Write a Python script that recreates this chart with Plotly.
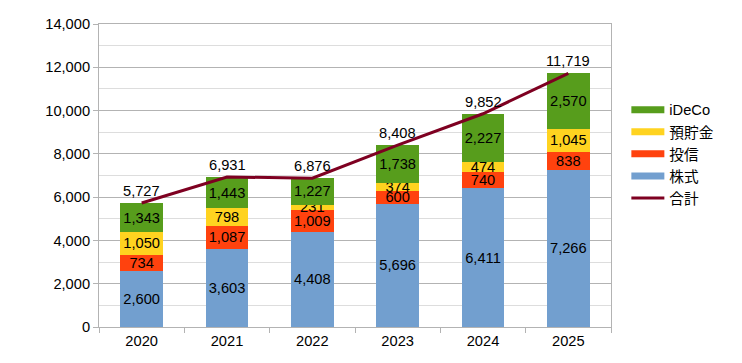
import plotly.graph_objects as go

years = ["2020", "2021", "2022", "2023", "2024", "2025"]
kabushiki = [2600, 3603, 4408, 5696, 6411, 7266]   # 株式
toshin = [734, 1087, 1009, 600, 740, 838]           # 投信
yochokin = [1050, 798, 231, 374, 474, 1045]         # 預貯金
ideco = [1343, 1443, 1227, 1738, 2227, 2570]        # iDeCo
total = [5727, 6931, 6876, 8408, 9852, 11719]       # 合計

y_ticks = [0, 2000, 4000, 6000, 8000, 10000, 12000, 14000]

FONT = "Liberation Sans, Arial, Noto Sans CJK JP, sans-serif"
FS = 14.67

series = [
    ("株式", kabushiki, "#729FCF"),
    ("投信", toshin, "#FF420E"),
    ("預貯金", yochokin, "#FFD320"),
    ("iDeCo", ideco, "#579D1C"),
]

fig = go.Figure()
for name, vals, col in series:
    fig.add_trace(go.Bar(
        x=years, y=vals, name=name, marker=dict(color=col, line=dict(width=0)),
        text=[f"{v:,}" for v in vals], textposition="inside", textangle=0,
        insidetextanchor="middle", constraintext="none",
        textfont=dict(color="black", size=FS, family=FONT),
        showlegend=False,
    ))

# legend entries (wide rectangles like the original)
for name, vals, col in reversed(series):
    fig.add_trace(go.Scatter(
        x=[None], y=[None], mode="lines", name=name,
        line=dict(color=col, width=7), showlegend=True, hoverinfo="skip",
    ))

fig.add_trace(go.Scatter(
    x=years, y=total, name="合計", mode="lines",
    line=dict(color="#7E0021", width=3),
))

# total labels above the line points (category index positions)
for i, v in enumerate(total):
    fig.add_annotation(
        x=i, y=v, xref="x", yref="y", text=f"{v:,}", showarrow=False, yshift=12,
        font=dict(color="black", size=FS, family=FONT),
    )

fig.update_layout(
    barmode="stack", bargap=0.5,
    width=726, height=347,
    margin=dict(l=91, r=123, t=16, b=28, autoexpand=False),
    paper_bgcolor="white", plot_bgcolor="white",
    font=dict(family=FONT, size=FS, color="black"),
    uniformtext=dict(minsize=FS, mode="show"),
    legend=dict(x=1.03, y=0.77, xanchor="left", yanchor="top",
                itemwidth=33, traceorder="normal",
                font=dict(size=FS, family=FONT, color="black"),
                bgcolor="rgba(0,0,0,0)"),
)
fig.update_xaxes(
    type="category", categoryorder="array", categoryarray=years,
    range=[-0.5, len(years) - 0.5],
    tickson="boundaries", ticks="outside", ticklen=5,
    tickcolor="#b3b3b3", showline=True, linecolor="#b3b3b3", linewidth=1,
    mirror=True, showgrid=False, automargin=False,
    tickfont=dict(size=FS, family=FONT, color="black"),
)
fig.update_yaxes(
    range=[0, 14000], tickvals=y_ticks, tickformat=",d",
    ticks="outside", ticklen=5, tickcolor="#b3b3b3",
    showline=True, linecolor="#b3b3b3", linewidth=1, mirror=True,
    showgrid=True, gridcolor="#b3b3b3", gridwidth=1,
    minor=dict(dtick=1000, showgrid=True, gridcolor="#dddddd", ticks=""),
    zeroline=False, automargin=False,
    tickfont=dict(size=FS, family=FONT, color="black"),
)

fig.write_html("out.html")
